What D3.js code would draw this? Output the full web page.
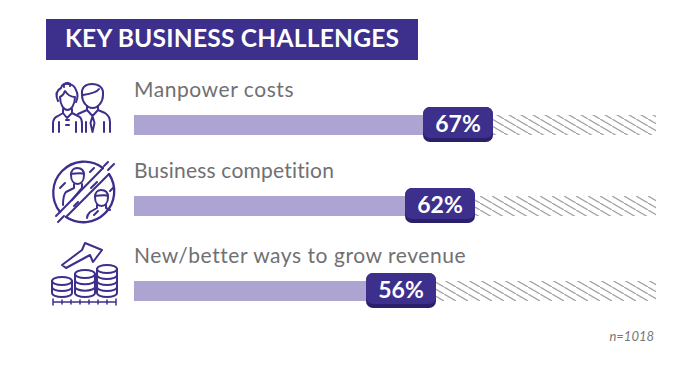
<!DOCTYPE html>
<html><head><meta charset="utf-8">
<script src="https://cdn.jsdelivr.net/npm/d3@7"></script>
<style>html,body{margin:0;padding:0;background:#fff}svg{display:block}text{font-family:Lato,sans-serif}</style>
</head><body><svg id="c" width="682" height="368"></svg>
<script>
const categories = ["Manpower costs", "Business competition", "New/better ways to grow revenue"];
const values = [67, 62, 56];
const titleText = "KEY BUSINESS CHALLENGES";
const noteText = "n=1018";
const purple = "#3d2f8c", lilac = "#ada4d2", shadow="#2a1f6b", grey="#707073";

const svg = d3.select("#c");
// The source graphic is not strictly proportional, so the scale is piecewise.
const x = d3.scaleLinear().domain([0,56,62,67,100]).range([134,427,466,484,656]);
const y = d3.scaleOrdinal().domain(categories).range([125,206,291]);
const track = d3.scaleOrdinal().domain(categories).range([0.55,0.2,0.55]);
const barH = 20, pillH = 31, pillW = 70;

const defs = svg.append("defs");
const pat = defs.append("pattern").attr("id","hatch").attr("patternUnits","userSpaceOnUse")
  .attr("width",12).attr("height",7);
pat.append("path").attr("d","M-12 -7L24 14").attr("stroke","#a3a3a5").attr("stroke-width",1.3).attr("fill","none");

svg.append("rect").attr("x",46).attr("y",19).attr("width",372).attr("height",41).attr("fill",purple);
svg.append("text").attr("x",65).attr("y",47).attr("fill","#fff").attr("font-size",24.6).attr("font-weight",700).attr("letter-spacing",0.2).text(titleText);

const rows = svg.selectAll("g.row").data(categories).join("g").attr("class","row");
rows.append("rect").attr("x",x(0)).attr("y",d=>y(d)-barH/2).attr("width",x(100)-x(0)).attr("height",barH).attr("fill","url(#hatch)");
rows.append("rect").attr("x",x(0)).attr("y",d=>y(d)-barH/2).attr("width",(d,i)=>x(values[i])-x(0)).attr("height",barH).attr("fill",lilac);
rows.append("text").attr("x",x(0)).attr("y",d=>y(d)-28).attr("fill",grey).attr("font-size",21).attr("letter-spacing",d=>track(d)).text(d=>d);
rows.append("rect").attr("x",(d,i)=>x(values[i])-61).attr("y",d=>y(d)-18).attr("width",pillW).attr("height",pillH+4).attr("rx",7).attr("fill",shadow);
rows.append("rect").attr("x",(d,i)=>x(values[i])-61).attr("y",d=>y(d)-18).attr("width",pillW).attr("height",pillH).attr("rx",7).attr("fill",purple);
rows.append("text").attr("x",(d,i)=>x(values[i])-26).attr("y",d=>y(d)+6.5).attr("text-anchor","middle").attr("fill","#fff").attr("font-size",23).attr("font-weight",700).text((d,i)=>values[i]+"%");

svg.append("text").attr("x",654).attr("y",341).attr("text-anchor","end").attr("fill","#77777a").attr("font-size",13).attr("font-style","italic").text(noteText);

const icon = svg.append("g").attr("fill","none").attr("stroke",purple).attr("stroke-width",2).attr("stroke-linecap","round").attr("stroke-linejoin","round");
// people
const p = icon.append("g");
["M58 101C55 94 57 90 61 88C62 84 65 83 68 84C72 84 75 87 76 90C78 94 78 98 76 102",
 "M60 97C60 105 64 110 67.5 110C71 110 75 105 75 97C71 97 67 94 65 91C64 94 62 96 60 97",
 "M64 87C63 84 66 83 67 83C70 83 71 84 70 86",
 "M63 109V113L58 116C55 117 53 120 53 124V132M72 109V113L78 116C81 117 82 120 82 124V132",
 "M63 113L67 118L72 113M59 122V132M76 122V132M66 120H69M66 125H69",
 "M82 95C81 87 86 84 92 84C98 84 104 87 103 95C103 102 98 108 92.5 108C87 108 82 102 82 95Z",
 "M83 95C90 94 97 92 99 89",
 "M87 106V110L78 114M98 106V110L105 113C108 115 110 118 110 122V132",
 "M87 110L92.5 116L98 110M92.5 116L90.5 123L92.5 132L94.5 123L92.5 116M86 122V132M104 122V132"
].forEach(d=>p.append("path").attr("d",d));
// competition
const c = icon.append("g");
c.append("path").attr("d","M60 212A31 31 0 0 1 103 168").attr("stroke-width",2.3);
c.append("path").attr("d","M66 217A31 31 0 0 0 109 174").attr("stroke-width",2.3);
["M60 212L103 168M66 217L109 174M58 222L64 216M56 216L60 212M104 166L108 162M108 170L114 164",
 "M71 175C71 170 74 168 77 168C81 168 84 170 84 175C84 181 81 184 77.5 184C74 184 71 181 71 175Z",
 "M71 174C75 174 81 172 84 174",
 "M74 184V188L66 192C64 194 63 198 63 205M82 184V188L72 200",
 "M95 197C95 192 98 190 101 190C105 190 108 192 108 197C108 203 105 206 101.5 206C98 206 95 203 95 197Z",
 "M95 196C99 196 105 194 108 196",
 "M97 205V208L90 212C88 214 87 216 87 218M106 205V208L110 210",
 "M60 188L65 183M90 172L94 168M97 182L91 188M94 215L98 211M110 191L114 187M78 202L74 206"
].forEach(d=>c.append("path").attr("d",d));
// coins
const m = icon.append("g");
[[62,281,3],[85,274,4],[107,269,5]].forEach(([cx,top,n])=>{
  const rx=10, ry=4, st=(293-top)/(n-1);
  m.append("ellipse").attr("cx",cx).attr("cy",top).attr("rx",rx).attr("ry",ry);
  d3.range(1,n-1).forEach(i=>m.append("path").attr("d",`M${cx-rx} ${top+i*st}A${rx} ${ry} 0 0 0 ${cx+rx} ${top+i*st}`));
  m.append("path").attr("d",`M${cx-rx} ${top}V293A${rx} ${ry} 0 0 0 ${cx+rx} 293V${top}`);
});
m.append("path").attr("d","M62 265L82 250L85 243L102 250L93 262L90 255L66 268Z");
m.append("path").attr("d","M53 302H116M53 299V305M62 300V304M71 300V304M80 300V304M89 300V304M98 300V304M107 300V304M116 299V305").attr("stroke-width",1.5);
</script></body></html>
